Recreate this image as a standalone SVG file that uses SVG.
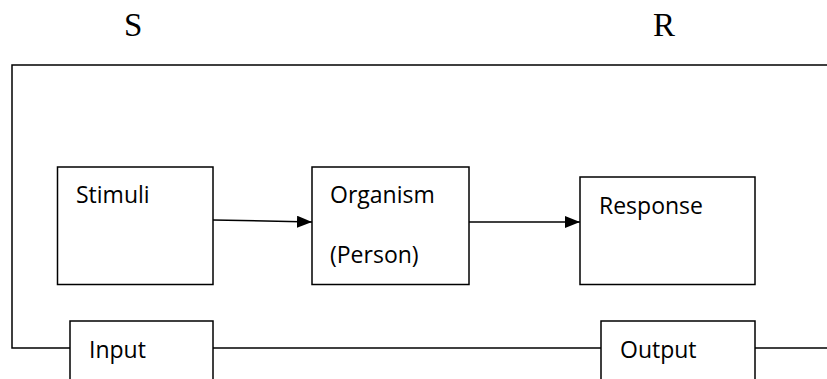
<svg xmlns="http://www.w3.org/2000/svg" width="827" height="379" viewBox="0 0 827 379">
<defs>
<style>
.box{fill:#fff;stroke:#000;stroke-width:1.5}
.ln{fill:none;stroke:#000;stroke-width:1.5}
.t{font-family:"Open Sans","Liberation Sans",sans-serif;font-size:23px;fill:#000}
.big{font-family:"Liberation Serif",serif;font-size:33px;fill:#000}
</style>
<marker id="ah" viewBox="0 0 15 12" refX="15" refY="6" markerWidth="15" markerHeight="12" markerUnits="userSpaceOnUse" orient="auto">
<path d="M0,0 L15,6 L0,12 z" fill="#000"/>
</marker>
</defs>
<rect width="827" height="379" fill="#fff"/>
<text class="big" x="124" y="36">S</text>
<text class="big" x="653" y="36">R</text>
<g id="connectors">
<path class="ln" d="M827,65 L12,65 L12,348 L70,348"/>
<path class="ln" d="M213,348 L601,348"/>
<path class="ln" d="M755,348 L827,348"/>
<path class="ln" d="M213,220 L312,222" marker-end="url(#ah)"/>
<path class="ln" d="M469,222 L580,222" marker-end="url(#ah)"/>
</g>
<g id="stimuli"><rect class="box" x="57.5" y="167" width="155.5" height="117.5"/><text class="t" x="76" y="203">Stimuli</text></g>
<g id="organism"><rect class="box" x="312" y="167" width="157" height="117.5"/><text class="t" x="330" y="203">Organism</text><text class="t" x="330" y="263">(Person)</text></g>
<g id="response"><rect class="box" x="580" y="177" width="175" height="107.5"/><text class="t" x="599" y="214">Response</text></g>
<g id="input"><rect class="box" x="70" y="321" width="143" height="70"/><text class="t" x="89" y="358">Input</text></g>
<g id="output"><rect class="box" x="601" y="321" width="154" height="70"/><text class="t" x="620" y="358">Output</text></g>
</svg>
